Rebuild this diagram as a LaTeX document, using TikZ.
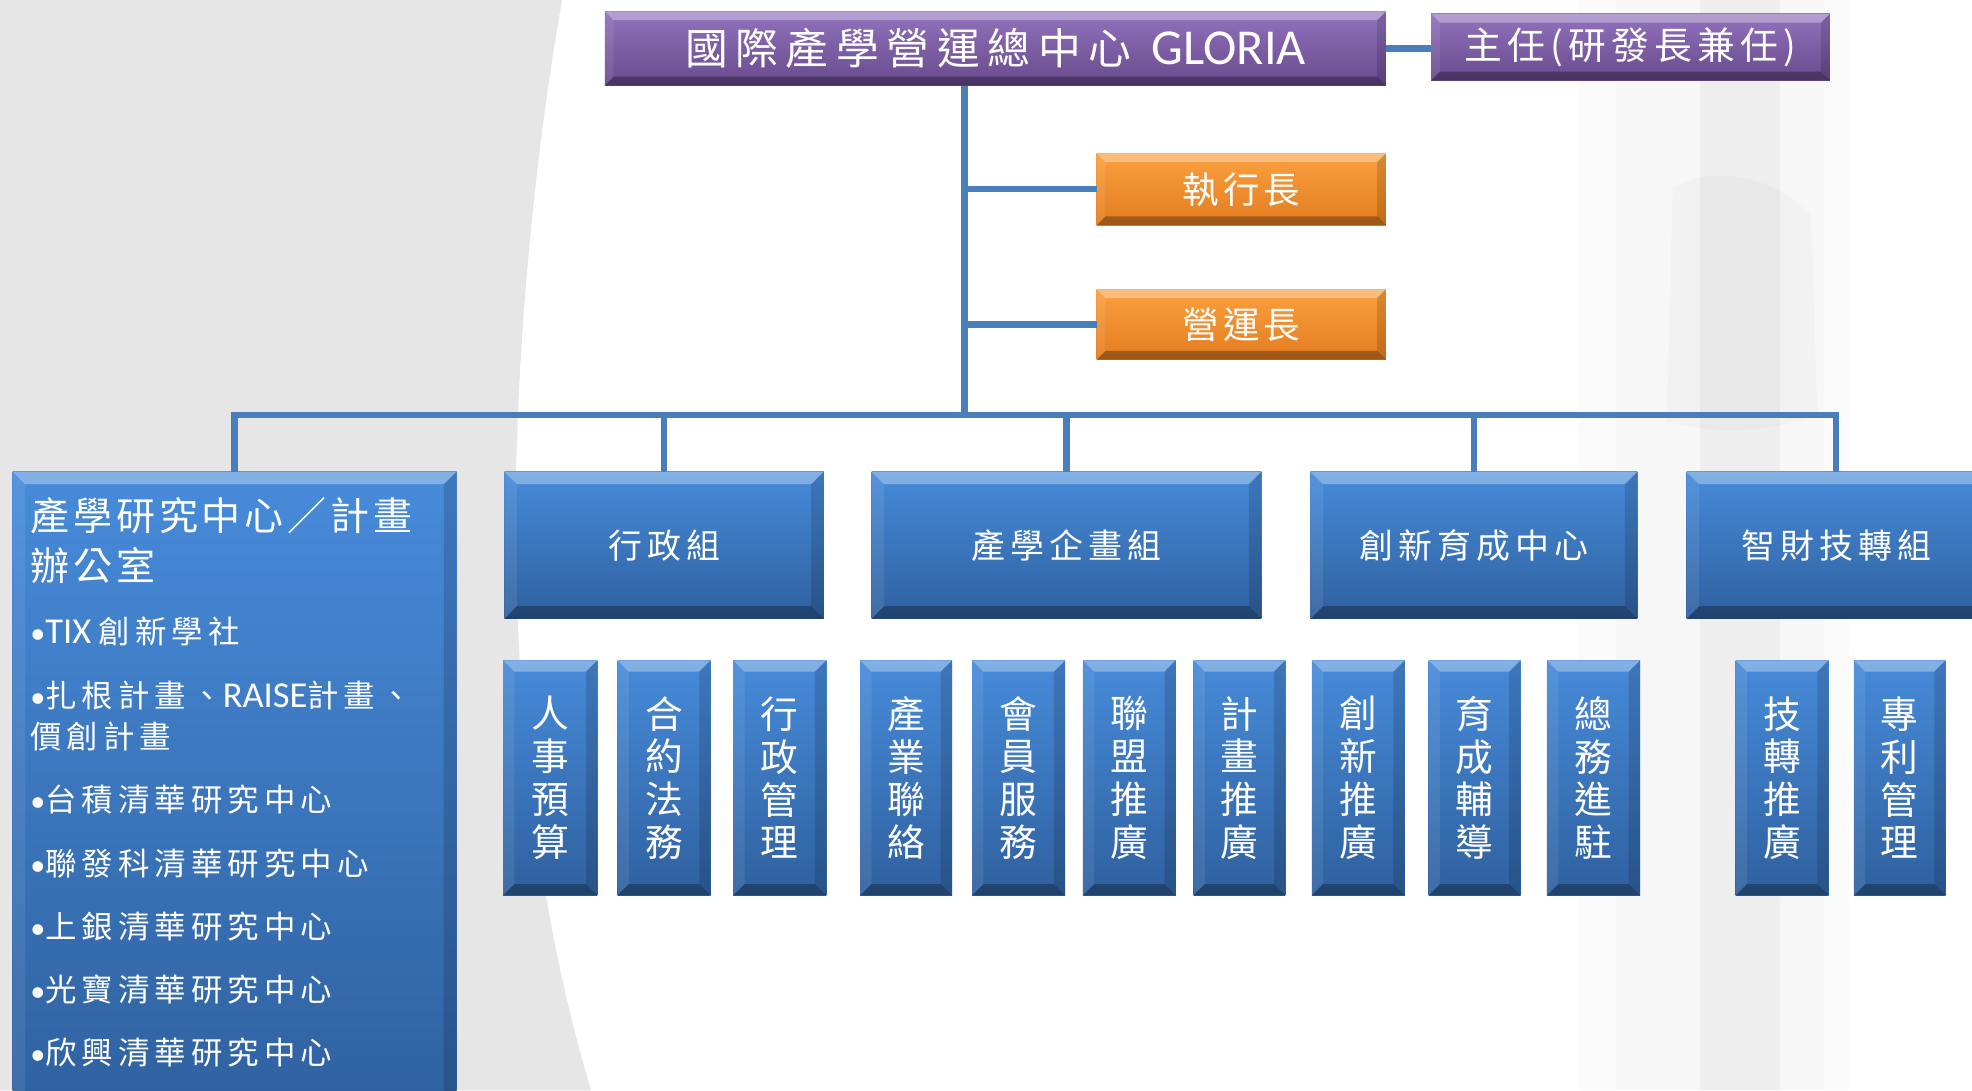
\documentclass[tikz,border=0pt]{standalone}
\usepackage{fontspec}
\setmainfont{Carlito}
\newfontfamily\cjkT[LetterSpace=18]{Noto Sans CJK TC}
\newfontfamily\cjkG[LetterSpace=15]{Noto Sans CJK TC}
\newfontfamily\cjkO[LetterSpace=12]{Noto Sans CJK TC}
\newfontfamily\cjkD[LetterSpace=14]{Noto Sans CJK TC}
\newfontfamily\cjkH[LetterSpace=10]{Noto Sans CJK TC}
\newfontfamily\cjkB[LetterSpace=16]{Noto Sans CJK TC}
\newfontfamily\cjkV{Noto Sans CJK TC}
\usetikzlibrary{calc}
\definecolor{bggray}{HTML}{E6E6E6}
\definecolor{connC}{HTML}{4A7EBB}
\definecolor{blueT}{HTML}{478BDA}
\definecolor{blueB}{HTML}{2F609E}
\definecolor{purT}{HTML}{9172BD}
\definecolor{purB}{HTML}{684A8C}
\definecolor{orT}{HTML}{FBA03E}
\definecolor{orB}{HTML}{E37C20}
\tikzset{
  bev/.style={path picture={
    \coordinate (bNW) at (path picture bounding box.north west);
    \coordinate (bNE) at (path picture bounding box.north east);
    \coordinate (bSW) at (path picture bounding box.south west);
    \coordinate (bSE) at (path picture bounding box.south east);
    \fill[white,opacity=.32] (bNW) -- (bNE) -- ([shift={(-#1,-#1)}]bNE) -- ([shift={(#1,-#1)}]bNW) -- cycle;
    \fill[white,opacity=.08] (bNW) -- ([shift={(#1,-#1)}]bNW) -- ([shift={(#1,#1)}]bSW) -- (bSW) -- cycle;
    \fill[black,opacity=.14] (bNE) -- ([shift={(-#1,-#1)}]bNE) -- ([shift={(-#1,#1)}]bSE) -- (bSE) -- cycle;
    \fill[black,opacity=.30] (bSW) -- (bSE) -- ([shift={(-#1,#1)}]bSE) -- ([shift={(#1,#1)}]bSW) -- cycle;
  }},
  boxbase/.style={inner sep=0pt, outer sep=0pt, text=white, anchor=north west, align=center},
  bluebox/.style={boxbase, top color=blueT, bottom color=blueB, bev=#1},
  purbox/.style={boxbase, top color=purT, bottom color=purB, bev=7pt},
  orbox/.style={boxbase, top color=orT, bottom color=orB, bev=7pt,
     font=\fontsize{29}{32}\selectfont\cjkO},
  grpbox/.style={bluebox=10pt, minimum height=117pt, font=\fontsize{27}{30}\selectfont\cjkG},
  vbox/.style={bluebox=9pt, minimum height=187pt,
     font=\fontsize{30}{34}\selectfont\cjkV},
  ltext/.style={anchor=west, inner sep=0pt, text=white},
  bltext/.style={ltext, font=\fontsize{25}{28}\selectfont\cjkB},
  conn/.style={draw=connC, line width=5pt},
}
\newcommand\blt{{\rmfamily\fontsize{24}{28}\selectfont\char"2022}}
\newcommand\lat[1]{{\rmfamily\fontsize{29}{30}\selectfont #1}}
\begin{document}
\begin{tikzpicture}[x=1pt,y=-1pt]
\useasboundingbox (0,0) rectangle (1568,867);
\clip (0,0) rectangle (1568,867);
% background
\fill[white] (0,0) rectangle (1568,867);
\fill[bggray] (0,0) -- (447,0) .. controls (420,150) and (404,350) .. (412,500)
   .. controls (420,680) and (450,800) .. (470,867) -- (0,867) -- cycle;
\fill[black,opacity=.015] (1255,0) rectangle (1470,867);
\fill[black,opacity=.015] (1285,0) rectangle (1450,867);
\fill[black,opacity=.035] (1352,0) rectangle (1415,867);
\fill[black,opacity=.018] (1330,150) .. controls (1360,130) and (1410,140) .. (1440,170) -- (1445,330) .. controls (1400,345) and (1360,345) .. (1325,335) -- cycle;

% top level
\node[purbox, minimum width=621pt, minimum height=59pt] (title) at (481,9)
  {{\fontsize{34}{38}\selectfont\cjkT 國際產學營運總中心}\hspace{16pt}{\fontsize{40}{44}\selectfont GLORIA}};
\node[purbox, minimum width=317pt, minimum height=53pt, font=\fontsize{30}{32}\selectfont\cjkD] (dir) at (1138,11)
  {主任(研發長兼任)};
\node[orbox, minimum width=230pt, minimum height=57pt] (ceo) at (872,122) {執行長};
\node[orbox, minimum width=230pt, minimum height=56pt] (coo) at (872,230) {營運長};

% groups
\node[bluebox=10pt, minimum width=353pt, minimum height=520pt] (lbox) at (10,375) {};
\node[grpbox, minimum width=254pt] (adm) at (401,375) {行政組};
\node[grpbox, minimum width=310pt] (plan) at (693,375) {產學企畫組};
\node[grpbox, minimum width=260pt] (inc) at (1042,375) {創新育成中心};
\node[grpbox, minimum width=238pt] (ip) at (1341,375) {智財技轉組};

% connectors
\coordinate (trunk) at (767,330);
\draw[conn] (title.south -| trunk) -- (trunk);
\draw[conn] (title.east) -- (title.east -| dir.west);
\draw[conn] (ceo.west) -- (ceo.west -| trunk);
\draw[conn] (coo.west) -- (coo.west -| trunk);
\draw[conn] (lbox.north) -- (lbox.north |- trunk) -- (ip.north |- trunk) -- (ip.north);
\draw[conn] (adm.north) -- (adm.north |- trunk);
\draw[conn] (plan.north) -- (plan.north |- trunk);
\draw[conn] (inc.north) -- (inc.north |- trunk);

% left box texts
\node[ltext, font=\fontsize{31}{34}\selectfont\cjkH] (lh1) at (24,410) {產學研究中心／計畫};
\node[ltext, font=\fontsize{31}{34}\selectfont\cjkH] (lh2) at (24,450) {辦公室};
\node[bltext] (b1) at (24,502) {\blt\lat{TIX}\hspace{6pt}創新學社};
\node[bltext] (b2) at (24,553) {\blt 扎根計畫、\lat{RAISE}計畫、};
\node[bltext] (b2b) at (24,586) {價創計畫};
\node[bltext] (b3) at (24,636) {\blt 台積清華研究中心};
\node[bltext] (b4) at (24,687) {\blt 聯發科清華研究中心};
\node[bltext] (b5) at (24,737) {\blt 上銀清華研究中心};
\node[bltext] (b6) at (24,787) {\blt 光寶清華研究中心};
\node[bltext] (b7) at (24,837) {\blt 欣興清華研究中心};

% sub units
\node[vbox, minimum width=75pt] (s1) at (400,525) {人\\事\\預\\算};
\node[vbox, minimum width=74pt] (s2) at (491,525) {合\\約\\法\\務};
\node[vbox, minimum width=74pt] (s3) at (583,525) {行\\政\\管\\理};
\node[vbox, minimum width=73pt] (s4) at (684,525) {產\\業\\聯\\絡};
\node[vbox, minimum width=74pt] (s5) at (773,525) {會\\員\\服\\務};
\node[vbox, minimum width=74pt] (s6) at (861,525) {聯\\盟\\推\\廣};
\node[vbox, minimum width=73pt] (s7) at (949,525) {計\\畫\\推\\廣};
\node[vbox, minimum width=74pt] (s8) at (1043,525) {創\\新\\推\\廣};
\node[vbox, minimum width=73pt] (s9) at (1136,525) {育\\成\\輔\\導};
\node[vbox, minimum width=74pt] (s10) at (1230,525) {總\\務\\進\\駐};
\node[vbox, minimum width=74pt] (s11) at (1380,525) {技\\轉\\推\\廣};
\node[vbox, minimum width=73pt] (s12) at (1474,525) {專\\利\\管\\理};
\end{tikzpicture}
\end{document}
